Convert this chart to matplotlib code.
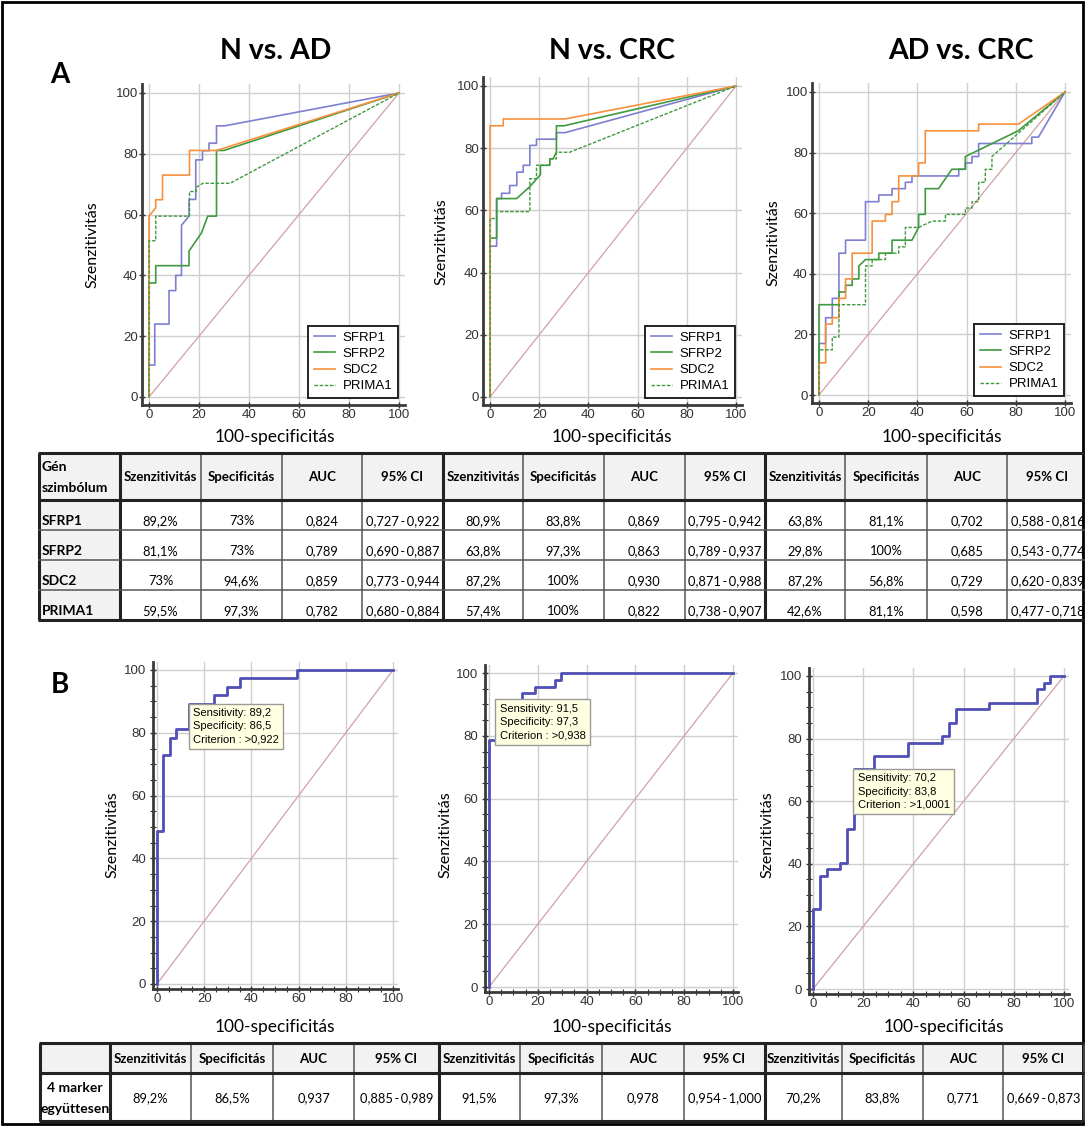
import matplotlib.pyplot as plt
from matplotlib.patches import Rectangle
from matplotlib.ticker import MultipleLocator

plt.rcParams['font.family'] = ['Liberation Sans', 'DejaVu Sans']

W, H = 1085, 1126

titles = ['N vs. AD', 'N vs. CRC', 'AD vs. CRC']
genes = ['SFRP1', 'SFRP2', 'SDC2', 'PRIMA1']
col_names = ['Szenzitivitás', 'Specificitás', 'AUC', '95% CI']

# ---- panel A: ROC curves (x = 100-spec, y = sens)
# N vs. AD
nad_sfrp1_x = [0, 0, 2.3, 2.3, 8, 8, 10.7, 10.7, 13, 13, 16, 16, 18.7, 18.7, 21.4, 21.4, 24, 24, 27, 27, 30.3, 100]
nad_sfrp1_y = [0, 10.5, 10.5, 24, 24, 35, 35, 40, 40, 56.5, 59.5, 65, 65, 78, 78, 81, 81, 83.5, 83.5, 89.2, 89.2, 100]
nad_sfrp2_x = [0, 0, 2.7, 2.7, 16, 16, 18.5, 21, 23.5, 27, 27, 30, 100]
nad_sfrp2_y = [0, 37.5, 37.5, 43.2, 43.2, 48, 51, 54, 59.5, 59.5, 81.1, 81.1, 100]
nad_sdc2_x = [0, 0, 2.7, 2.7, 5.4, 5.4, 16.2, 16.2, 27, 100]
nad_sdc2_y = [0, 59.5, 62.2, 64.9, 64.9, 73, 73, 81.1, 81.1, 100]
nad_prima1_x = [0, 0, 2.7, 2.7, 16.2, 16.2, 18.9, 18.9, 21.6, 32.4, 100]
nad_prima1_y = [0, 51.4, 51.4, 59.5, 59.5, 67.6, 67.6, 69, 70.3, 70.3, 100]

# N vs. CRC
ncrc_sfrp1_x = [0, 0, 2.7, 2.7, 4.7, 4.7, 8, 8, 10.9, 10.9, 13.5, 13.5, 16.2, 16.2, 18.9, 18.9, 27, 27, 30.5, 100]
ncrc_sfrp1_y = [0, 48.5, 48.5, 63.8, 63.8, 65.5, 65.5, 68, 68, 72.3, 72.3, 74.5, 74.5, 80.9, 80.9, 82.9, 82.9, 85, 85, 100]
ncrc_sfrp2_x = [0, 0, 2.7, 2.7, 10.8, 16, 20.5, 20.5, 24.3, 24.3, 25.7, 27, 27, 30, 100]
ncrc_sfrp2_y = [0, 51.1, 51.1, 63.8, 63.8, 67.5, 71.5, 74.5, 74.5, 76.6, 76.6, 78.7, 87.2, 87.2, 100]
ncrc_sdc2_x = [0, 0, 5.4, 5.4, 30.5, 100]
ncrc_sdc2_y = [0, 87.2, 87.2, 89.4, 89.4, 100]
ncrc_prima1_x = [0, 0, 2.7, 2.7, 16.2, 16.2, 18.9, 18.9, 24.3, 24.3, 27, 27, 32.4, 100]
ncrc_prima1_y = [0, 57.4, 57.4, 59.6, 59.6, 70.2, 70.2, 74.5, 74.5, 76.6, 76.6, 78.7, 78.7, 100]

# AD vs. CRC
adcrc_sfrp1_x = [0, 0, 2.7, 2.7, 5.4, 5.4, 8.1, 8.1, 10.8, 10.8, 18.9, 18.9, 24.3, 24.3, 29.7, 29.7,
                 35.1, 35.1, 37.8, 37.8, 56.8, 56.8, 59.5, 59.5, 62.2, 62.2, 64.9, 64.9, 86.5, 86.5, 89.2, 100]
adcrc_sfrp1_y = [0, 17, 17, 25.5, 25.5, 31.9, 31.9, 46.8, 46.8, 51.1, 51.1, 63.8, 63.8, 66, 66, 68.1,
                 68.1, 70.2, 70.2, 72.3, 72.3, 74.5, 74.5, 76.6, 76.6, 78.7, 78.7, 83, 83, 85.1, 85.1, 100]
adcrc_sfrp2_x = [0, 0, 8.1, 8.1, 10.8, 10.8, 13.5, 13.5, 16.2, 16.2, 18.9, 24.3, 24.3, 29.7, 29.7,
                 37.8, 40.5, 40.5, 43.2, 43.2, 48.6, 54, 59.5, 59.5, 81, 100]
adcrc_sfrp2_y = [0, 29.8, 29.8, 34, 34, 36.2, 36.2, 38.3, 38.3, 42.6, 44.7, 44.7, 46.8, 46.8, 51.1,
                 51.1, 55.3, 59.6, 59.6, 68.1, 68.1, 74.5, 74.5, 78.7, 87.2, 100]
adcrc_sdc2_x = [0, 0, 2.7, 2.7, 5.4, 5.4, 8.1, 8.1, 10.8, 10.8, 13.5, 13.5, 21.6, 21.6, 27, 27, 29.7,
                29.7, 32.4, 32.4, 40.5, 40.5, 43.2, 43.2, 64.9, 64.9, 81.1, 100]
adcrc_sdc2_y = [0, 10.6, 10.6, 23.4, 23.4, 25.5, 25.5, 31.9, 31.9, 38.3, 38.3, 46.8, 46.8, 57.4, 57.4,
                59.6, 59.6, 63.8, 63.8, 72.3, 72.3, 76.6, 76.6, 87.2, 87.2, 89.4, 89.4, 100]
adcrc_prima1_x = [0, 0, 5.4, 5.4, 8.1, 8.1, 18.9, 18.9, 21.6, 21.6, 27, 27, 32.4, 32.4, 35.1, 35.1, 40.5,
                  45.9, 51.4, 51.4, 59.5, 59.5, 62.2, 62.2, 64.9, 64.9, 67.6, 67.6, 70.3, 70.3, 100]
adcrc_prima1_y = [0, 14.9, 14.9, 19.1, 19.1, 29.8, 29.8, 42.6, 42.6, 44.7, 44.7, 46.8, 46.8, 48.9, 48.9,
                  55.3, 55.3, 57.4, 57.4, 59.6, 59.6, 61.7, 61.7, 63.8, 63.8, 70.2, 70.2, 74.5, 74.5, 78.7, 100]

# ---- panel B: combined 4-marker ROC curves
b_nad_x = [0, 0, 2.7, 2.7, 5.4, 5.4, 8.1, 8.1, 13.5, 13.5, 24.3, 24.3, 29.7, 29.7, 35.1, 35.1, 59.5, 59.5, 100]
b_nad_y = [0, 48.6, 48.6, 73, 73, 78.4, 78.4, 81.1, 81.1, 89.2, 89.2, 91.9, 91.9, 94.6, 94.6, 97.3, 97.3, 100, 100]
b_ncrc_x = [0, 0, 2.7, 2.7, 13.5, 13.5, 18.9, 18.9, 27, 27, 29.7, 29.7, 100]
b_ncrc_y = [0, 78.7, 78.7, 91.5, 91.5, 93.6, 93.6, 95.7, 95.7, 97.9, 97.9, 100, 100]
b_adcrc_x = [0, 0, 2.7, 2.7, 5.4, 5.4, 10.8, 10.8, 13.5, 13.5, 16.2, 16.2, 24.3, 24.3, 37.8, 37.8, 51.4,
             51.4, 54.1, 54.1, 56.8, 56.8, 70.3, 70.3, 89.2, 89.2, 91.9, 91.9, 94.6, 94.6, 100]
b_adcrc_y = [0, 25.5, 25.5, 36.2, 36.2, 38.3, 38.3, 40.4, 40.4, 51.1, 51.1, 70.2, 70.2, 74.5, 74.5, 78.7,
             78.7, 80.9, 80.9, 85.1, 85.1, 89.4, 89.4, 91.5, 91.5, 95.7, 95.7, 97.9, 97.9, 100, 100]

tip_sens = ['89,2', '91,5', '70,2']
tip_spec = ['86,5', '97,3', '83,8']
tip_crit = ['>0,922', '>0,938', '>1,0001']

# ---- table A values
nad_sens = ['89,2%', '81,1%', '73%', '59,5%']
nad_spec = ['73%', '73%', '94,6%', '97,3%']
nad_auc = ['0,824', '0,789', '0,859', '0,782']
nad_ci = ['0,727 - 0,922', '0,690 - 0,887', '0,773 - 0,944', '0,680 - 0,884']
ncrc_sens = ['80,9%', '63,8%', '87,2%', '57,4%']
ncrc_spec = ['83,8%', '97,3%', '100%', '100%']
ncrc_auc = ['0,869', '0,863', '0,930', '0,822']
ncrc_ci = ['0,795 - 0,942', '0,789 - 0,937', '0,871 - 0,988', '0,738 - 0,907']
adcrc_sens = ['63,8%', '29,8%', '87,2%', '42,6%']
adcrc_spec = ['81,1%', '100%', '56,8%', '81,1%']
adcrc_auc = ['0,702', '0,685', '0,729', '0,598']
adcrc_ci = ['0,588 - 0,816', '0,543 - 0,774', '0,620 - 0,839', '0,477 - 0,718']

# ---- table B values (4 markers together)
comb_sens = ['89,2%', '91,5%', '70,2%']
comb_spec = ['86,5%', '97,3%', '83,8%']
comb_auc = ['0,937', '0,978', '0,771']
comb_ci = ['0,885 - 0,989', '0,954 - 1,000', '0,669 - 0,873']

c_sfrp1 = '#7f7fd2'
c_sfrp2 = '#3f9a3f'
c_sdc2 = '#f7903c'
c_diag = '#d3a0a0'
c_comb = '#4f4fb5'
TF = ['Lato', 'DejaVu Sans']


def ci_text(s):
    # narrow spaces round the dash, like the original table
    return s.replace(' - ', '\u2009-\u2009')


fig = plt.figure(figsize=(W / 100, H / 100), dpi=100)
ov = fig.add_axes([0, 0, 1, 1])
ov.set_xlim(0, W)
ov.set_ylim(H, 0)
ov.axis('off')


def roc_axes(x0, x100, y0, y100, pad, minor=False):
    pl, pr, pb, pt = pad
    sx = (x100 - x0) / 100.0
    sy = (y0 - y100) / 100.0
    l, r, b, t = x0 - pl, x100 + pr, y0 + pb, y100 - pt
    ax = fig.add_axes([l / W, 1 - b / H, (r - l) / W, (b - t) / H])
    ax.set_xlim(-pl / sx, 100 + pr / sx)
    ax.set_ylim(-pb / sy, 100 + pt / sy)
    ax.set_facecolor('none')
    for s in ['top', 'right']:
        ax.spines[s].set_visible(False)
    for s in ['left', 'bottom']:
        ax.spines[s].set_linewidth(2)
        ax.spines[s].set_color('#3a3a3a')
    ax.set_xticks(range(0, 101, 20))
    ax.set_yticks(range(0, 101, 20))
    ax.grid(True, color='#cfcfcf', lw=1.0)
    ax.set_axisbelow(True)
    ax.tick_params(labelsize=9.5, colors='#333333', length=4, width=1, direction='inout', pad=1)
    if minor:
        ax.xaxis.set_minor_locator(MultipleLocator(5))
        ax.yaxis.set_minor_locator(MultipleLocator(5))
        ax.tick_params(which='minor', length=4, width=0.8, direction='inout', colors='#333333')
        ax.tick_params(axis='y', pad=3)
    ax.plot([0, 100], [0, 100], color=c_diag, lw=0.9)
    return ax


# ---- panel A plots
a_pos = [(149, 399, 397, 93), (490, 736, 397, 86), (819, 1065, 395, 92)]
a_curves = [
    [(nad_sfrp1_x, nad_sfrp1_y), (nad_sfrp2_x, nad_sfrp2_y), (nad_sdc2_x, nad_sdc2_y), (nad_prima1_x, nad_prima1_y)],
    [(ncrc_sfrp1_x, ncrc_sfrp1_y), (ncrc_sfrp2_x, ncrc_sfrp2_y), (ncrc_sdc2_x, ncrc_sdc2_y), (ncrc_prima1_x, ncrc_prima1_y)],
    [(adcrc_sfrp1_x, adcrc_sfrp1_y), (adcrc_sfrp2_x, adcrc_sfrp2_y), (adcrc_sdc2_x, adcrc_sdc2_y), (adcrc_prima1_x, adcrc_prima1_y)],
]
styles = [dict(color=c_sfrp1, lw=1.2), dict(color=c_sfrp2, lw=1.2),
          dict(color=c_sdc2, lw=1.2), dict(color=c_sfrp2, lw=1.0, ls=(0, (2.5, 1.2)))]

for pos, curves in zip(a_pos, a_curves):
    ax = roc_axes(*pos, pad=(7, 6, 8, 9))
    for (cx, cy), st, g in zip(curves, styles, genes):
        ax.plot(cx, cy, label=g, **st)
    leg = ax.legend(loc='lower right', fontsize=9.5, frameon=True, fancybox=False, framealpha=1,
                    borderaxespad=0.55, handlelength=1.6, handletextpad=0.6, labelspacing=0.3,
                    borderpad=0.4)
    leg.get_frame().set_edgecolor('#222222')
    leg.get_frame().set_linewidth(1.4)

# ---- panel B plots
b_pos = [(157, 393, 984, 670), (489, 733, 987, 673), (813, 1064, 989, 676)]
b_curves = [(b_nad_x, b_nad_y), (b_ncrc_x, b_ncrc_y), (b_adcrc_x, b_adcrc_y)]
for i, (pos, (cx, cy)) in enumerate(zip(b_pos, b_curves)):
    ax = roc_axes(*pos, pad=(4, 5, 5, 8), minor=True)
    ax.plot(cx, cy, color=c_comb, lw=2)
    px = 100 - float(tip_spec[i].replace(',', '.'))
    py = float(tip_sens[i].replace(',', '.'))
    txt = 'Sensitivity: %s\nSpecificity: %s\nCriterion : %s' % (tip_sens[i], tip_spec[i], tip_crit[i])
    ax.annotate(txt, xy=(px, py), xytext=(3, -3), textcoords='offset points', ha='left', va='top',
                fontsize=8, linespacing=1.4, zorder=10,
                bbox=dict(boxstyle='square,pad=0.4', fc='#ffffe1', ec='#9a9a9a', lw=1))

# ---- axis labels, titles, letters
for xc, yc in [(92, 245), (441, 242), (773, 243), (112, 835), (445, 835), (767, 835)]:
    ov.text(xc, yc, 'Szenzitivitás', rotation=90, ha='center', va='center', family=TF, fontsize=11.5)
for xc, yc in [(275, 437), (612, 437), (942, 437), (275, 1027), (612, 1027), (944, 1027)]:
    ov.text(xc, yc, '100-specificitás', ha='center', va='center', family=TF, fontsize=12.5)
for xc, t in zip([276, 612, 961], titles):
    ov.text(xc, 51, t, ha='center', va='center', family=TF, fontsize=20.5, fontweight='bold')
ov.text(60, 75, 'A', ha='center', va='center', family=TF, fontsize=20, fontweight='bold')
ov.text(60, 685, 'B', ha='center', va='center', family=TF, fontsize=20, fontweight='bold')


def table_grid(xs, ys, thick_x, gray_first_col):
    ov.add_patch(Rectangle((xs[0], ys[0]), xs[-1] - xs[0], ys[1] - ys[0], fc='#f2f2f2', ec='none'))
    if gray_first_col:
        ov.add_patch(Rectangle((xs[0], ys[1]), xs[1] - xs[0], ys[-1] - ys[1], fc='#f2f2f2', ec='none'))
    for x in xs:
        thick = x in thick_x or x == xs[0]
        ov.plot([x, x], [ys[0], ys[-1]], color='#222222' if thick else '#555555',
                lw=2.2 if thick else 1.1, solid_capstyle='butt')
    for j, y in enumerate(ys):
        thick = j in (0, 1, len(ys) - 1)
        ov.plot([xs[0] - 1, xs[-1]], [y, y], color='#222222' if thick else '#555555',
                lw=2.2 if thick else 1.1, solid_capstyle='butt')


# ---- table A
ta_x = [39, 120, 201, 282, 362, 443, 523, 604, 685, 765, 845, 927, 1007, 1088]
ta_y = [453, 500, 530, 560, 590, 620]
table_grid(ta_x, ta_y, [120, 443, 765], True)
ov.text(42, 467, 'Gén', ha='left', va='center', family=TF, fontsize=10, fontweight='bold')
ov.text(42, 488, 'szimbólum', ha='left', va='center', family=TF, fontsize=10, fontweight='bold')
groups_a = [(nad_sens, nad_spec, nad_auc, nad_ci), (ncrc_sens, ncrc_spec, ncrc_auc, ncrc_ci),
            (adcrc_sens, adcrc_spec, adcrc_auc, adcrc_ci)]
for r, g in enumerate(genes):
    ov.text(42, ta_y[r + 2] - 5, g, ha='left', va='baseline', family=TF, fontsize=10, fontweight='bold')
for gi, grp in enumerate(groups_a):
    for ci, col in enumerate(grp):
        xc = (ta_x[1 + 4 * gi + ci] + ta_x[2 + 4 * gi + ci]) / 2
        ov.text(xc, 477, col_names[ci], ha='center', va='center', family=TF, fontsize=9.5, fontweight='bold')
        for r, v in enumerate(col):
            ov.text(xc, ta_y[r + 2] - 5, ci_text(v), ha='center', va='baseline', family=TF, fontsize=9.3)

# ---- table B
tb_x = [40, 110, 191, 273, 354, 439, 520, 602, 684, 765, 842, 923, 1003, 1084]
tb_y = [1043, 1073, 1121]
table_grid(tb_x, tb_y, [110, 439, 765], False)
ov.text(75, 1088, '4 marker', ha='center', va='center', family=TF, fontsize=10, fontweight='bold')
ov.text(75, 1109, 'együttesen', ha='center', va='center', family=TF, fontsize=10, fontweight='bold')
groups_b = [comb_sens, comb_spec, comb_auc, comb_ci]
for gi in range(3):
    for ci, col in enumerate(groups_b):
        xc = (tb_x[1 + 4 * gi + ci] + tb_x[2 + 4 * gi + ci]) / 2
        ov.text(xc, 1059, col_names[ci], ha='center', va='center', family=TF, fontsize=9.5, fontweight='bold')
        ov.text(xc, 1098, ci_text(col[gi]), ha='center', va='center', family=TF, fontsize=9.3)

# outer frame
ov.add_patch(Rectangle((2, 2), W - 4, H - 4, fill=False, ec='black', lw=2, clip_on=False))

fig.savefig('out.png', dpi=100)
